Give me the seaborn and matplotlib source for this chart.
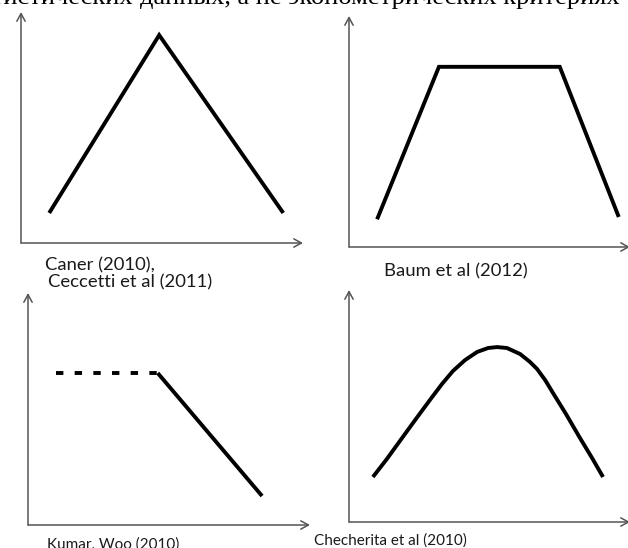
import numpy as np
import matplotlib
matplotlib.use("Agg")
import matplotlib.pyplot as plt
import seaborn as sns

# panel data (x and y in 0-100 units of each panel box)
caner_x = [10, 49, 93]
caner_y = [13, 90, 13]

baum_x = [10, 32, 75, 96]
baum_y = [12, 78, 78, 13]

kumar_dash_x = [10, 46]
kumar_dash_y = [65.5, 65.5]
kumar_x = [46, 83]
kumar_y = [65.5, 12.5]

chech_x = [8.5, 13.5, 18.1, 23.5, 28.8, 33.1, 37.0, 41.3, 45.6, 49.5, 52.7,
           56.2, 60.9, 64.4, 66.9, 69.8, 72.6, 77.2, 82.2, 86.5, 90.4]
chech_y = [19.4, 27.2, 34.9, 43.9, 52.6, 59.5, 65.1, 69.8, 73.3, 75.0, 75.4,
           75.0, 72.4, 69.0, 66.0, 61.2, 55.6, 46.6, 36.2, 27.6, 19.4]

labels = ["Caner (2010),\n Ceccetti et al (2011)", "Baum et al (2012)",
          "Kumar, Woo (2010)", "Checherita et al (2010)"]

top_text_left = "статистических"
top_text_right = "данных, а не эконометрических критериях"

W, H = 628, 548
sns.set_style("white")
fig = plt.figure(figsize=(W / 100, H / 100), dpi=100)
fig.patch.set_facecolor("white")


def make_ax(left, top, right, bottom):
    # pixel box -> figure fraction
    ax = fig.add_axes([left / W, 1 - bottom / H, (right - left) / W, (bottom - top) / H])
    ax.set_xlim(0, 100)
    ax.set_ylim(0, 100)
    for s in ax.spines.values():
        s.set_visible(False)
    ax.set_xticks([])
    ax.set_yticks([])
    ax.patch.set_alpha(0)
    arrow = dict(arrowstyle="->,head_length=0.55,head_width=0.3", color="#555555",
                 lw=1.1, shrinkA=0, shrinkB=0)
    ax.annotate("", xy=(0, 1), xytext=(0, 0), xycoords="axes fraction",
                arrowprops=arrow, annotation_clip=False)
    ax.annotate("", xy=(1, 0), xytext=(0, 0), xycoords="axes fraction",
                arrowprops=arrow, annotation_clip=False)
    return ax


lw = 2.8

ax1 = make_ax(21, 12, 303, 243)
sns.lineplot(x=caner_x, y=caner_y, sort=False, color="black", lw=lw, ax=ax1)

ax2 = make_ax(349, 16, 630, 247)
sns.lineplot(x=baum_x, y=baum_y, sort=False, color="black", lw=lw, ax=ax2)

ax3 = make_ax(28, 293, 310, 525)
sns.lineplot(x=kumar_dash_x, y=kumar_dash_y, sort=False, color="black", lw=lw,
             linestyle=(0, (1.9, 2.9)), ax=ax3)
sns.lineplot(x=kumar_x, y=kumar_y, sort=False, color="black", lw=lw, ax=ax3)

ax4 = make_ax(349, 290, 630, 522)
sns.lineplot(x=chech_x, y=chech_y, sort=False, color="black", lw=lw, ax=ax4)

for ax in (ax1, ax2, ax3):
    for ln in ax.lines:
        ln.set_solid_capstyle("butt")
        ln.set_solid_joinstyle("miter")
ax4.lines[0].set_solid_capstyle("butt")
ax4.lines[0].set_solid_joinstyle("round")

lab = dict(family="Lato", fontsize=13.3, color="#1a1a1a", va="baseline", ha="left")
lab_small = dict(lab, fontsize=11)
fig.text(45 / W, 1 - 270 / H, "Caner (2010),", **lab)
fig.text(48 / W, 1 - 287 / H, "Ceccetti et al (2011)", **lab)
fig.text(384 / W, 1 - 276 / H, labels[1], **lab)
fig.text(47 / W, 1 - 549 / H, labels[2], **lab_small)
fig.text(314 / W, 1 - 545 / H, labels[3], **lab_small)

top = dict(family="Liberation Serif", fontsize=19, color="black", va="baseline")
fig.text(133 / W, 1 - 4 / H, top_text_left, ha="right", **top)
fig.text(140 / W, 1 - 4 / H, top_text_right, ha="left", **top)

fig.savefig("out.png", dpi=100)
